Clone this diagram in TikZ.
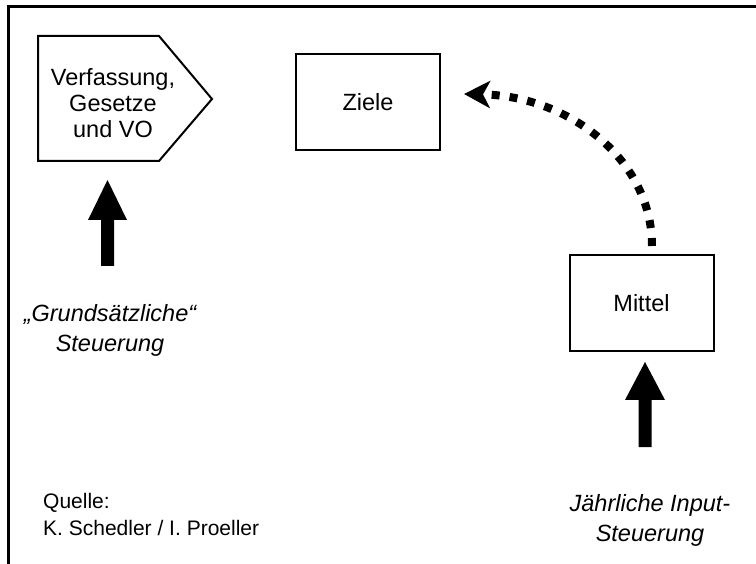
\documentclass[tikz,border=0pt]{standalone}
\usepackage{fontspec}
\setmainfont{Liberation Sans}
\usetikzlibrary{arrows.meta}
\begin{document}
\begin{tikzpicture}[x=1pt,y=-1pt,
  box/.style={draw,line width=2pt,minimum width=144pt,minimum height=96pt,inner sep=0pt,font=\fontsize{23.5}{26}\selectfont},
  lbl/.style={align=center,font=\fontsize{23.5}{30}\selectfont\itshape,inner sep=0pt},
  src/.style={align=left,font=\fontsize{21}{27}\selectfont,inner sep=0pt,anchor=west},
  blockarrow/.style={fill=black,draw=none},
  dotted arrow/.style={line width=8pt,dash pattern=on 8pt off 10pt,-{Stealth[length=26pt,width=27pt,inset=7pt]}}
]
\useasboundingbox (0,0) rectangle (756,564);
% frame
\draw[line width=3pt] (8,564) -- (8,7) -- (756,7);
% pentagon
\draw[line width=2pt,line join=miter] (38,36) -- (159,36) -- (212,99) -- (159,161) -- (38,161) -- cycle;
\node[align=center,inner sep=0pt,font=\fontsize{23.5}{26}\selectfont] (vg) at (113,103) {Verfassung,\\Gesetze\\und VO};
% boxes
\node[box] (ziele) at (368,102.5) {Ziele};
\node[box] (mittel) at (641.5,303.5) {Mittel};
% dotted curved arrow
\coordinate (dstart) at (652,246);
\coordinate (dend) at (464,94);
\draw[dotted arrow] (dstart) .. controls (652,160) and (570,96) .. (dend);
% block arrows
\coordinate (a1) at (107.5,180);
\fill[blockarrow] (a1) -- ++(19.5,40) -- ++(-13,0) -- ++(0,46) -- ++(-13,0) -- ++(0,-46) -- ++(-13,0) -- cycle;
\coordinate (a2) at (645,362);
\fill[blockarrow] (a2) -- ++(20,38) -- ++(-13.5,0) -- ++(0,47) -- ++(-13,0) -- ++(0,-47) -- ++(-13.5,0) -- cycle;
% labels
\node[lbl] (grund) at (110,330) {„Grundsätzliche“\\Steuerung};
\node[lbl] (input) at (650,520) {Jährliche Input-\\Steuerung};
\node[src] (quelle) at (43,514) {Quelle:\\K. Schedler / I. Proeller};
\end{tikzpicture}
\end{document}
